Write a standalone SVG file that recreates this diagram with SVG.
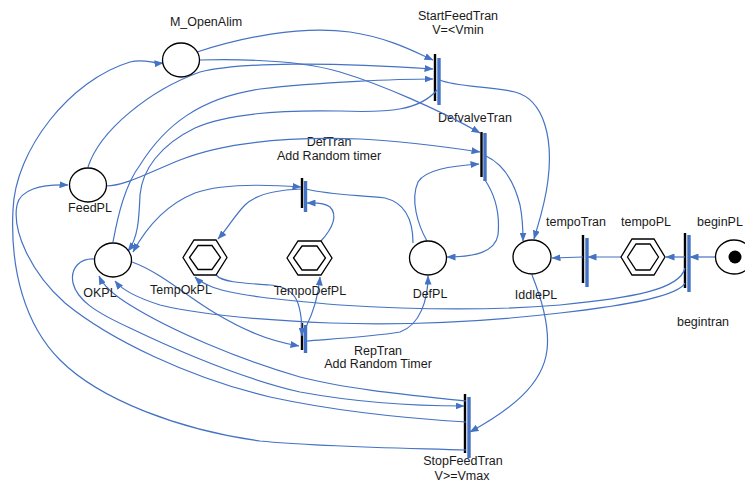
<svg xmlns="http://www.w3.org/2000/svg" width="745" height="482" viewBox="0 0 745 482">
  <style>
    .lbl { font-family: "Liberation Sans", Arial, sans-serif; font-size: 12.5px; fill: #1a1a1a; text-anchor: middle; }
    .place { fill: #ffffff; stroke: #000000; stroke-width: 1.3; }
    .bar { stroke: #000000; stroke-width: 2.4; }
    .bar2 { stroke: #4472C4; stroke-width: 3.4; }
    .arc { fill: none; stroke: #4472C4; stroke-width: 1.2; }
    .arc.to { marker-end: url(#head); }
  </style>
  <defs>
    <marker id="head" markerUnits="userSpaceOnUse" markerWidth="9" markerHeight="7" viewBox="0 0 9 7" refX="8.5" refY="3.5" orient="auto-start-reverse">
      <path d="M0,0 L9,3.5 L0,7 z" fill="#4472C4"/>
    </marker>
  </defs>
  <rect width="745" height="482" fill="#ffffff"/>

  <!-- transitions: black bar with offset blue bar -->
  <g id="StartFeedTran">
    <line class="bar" x1="435" y1="54" x2="435" y2="101"/>
    <line class="bar2" x1="439" y1="58" x2="439" y2="105"/>
    <text class="lbl" x="458" y="20">StartFeedTran</text>
    <text class="lbl" x="458" y="34">V=&lt;Vmin</text>
  </g>
  <g id="DefvalveTran">
    <line class="bar" x1="481.5" y1="132" x2="481.5" y2="177"/>
    <line class="bar2" x1="485" y1="133" x2="485" y2="181"/>
    <text class="lbl" x="475" y="122">DefvalveTran</text>
  </g>
  <g id="DefTran">
    <line class="bar" x1="302" y1="178" x2="302" y2="208"/>
    <line class="bar2" x1="305.5" y1="181" x2="305.5" y2="212"/>
    <text class="lbl" x="329" y="146">DefTran</text>
    <text class="lbl" x="329" y="160">Add Random timer</text>
  </g>
  <g id="RepTran">
    <line class="bar" x1="302" y1="323" x2="302" y2="350"/>
    <line class="bar2" x1="305.5" y1="325" x2="305.5" y2="353"/>
    <text class="lbl" x="378" y="355">RepTran</text>
    <text class="lbl" x="378" y="368">Add Random Timer</text>
  </g>
  <g id="StopFeedTran">
    <line class="bar" x1="465" y1="394" x2="465" y2="453"/>
    <line class="bar2" x1="469" y1="397" x2="469" y2="458"/>
    <text class="lbl" x="463" y="465">StopFeedTran</text>
    <text class="lbl" x="462" y="479.5">V&gt;=Vmax</text>
  </g>
  <g id="tempoTran">
    <line class="bar" x1="583" y1="235" x2="583" y2="283"/>
    <line class="bar2" x1="587" y1="238" x2="587" y2="287"/>
    <text class="lbl" x="576" y="226">tempoTran</text>
  </g>
  <g id="begintran">
    <line class="bar" x1="685" y1="233" x2="685" y2="288"/>
    <line class="bar2" x1="689" y1="235" x2="689" y2="292"/>
    <text class="lbl" x="703" y="326">begintran</text>
  </g>

  <!-- arcs -->
  <g id="connectors">
    <path class="arc to" d="M197,52 C240,38 300,25 350,32 C390,38 415,52 433,60"/>
    <path class="arc to" d="M199,60 C240,59 300,60 340,72 C380,84 440,110 480,133"/>
    <path class="arc to" d="M88,167 C100,130 150,90 200,72 C240,62 330,62 433,69"/>
    <path class="arc to" d="M113,242 C118,215 125,185 140,165 C165,125 200,98 260,89 C320,82 400,79 433,79"/>
    <path class="arc to" d="M437,90 C420,110 390,113 340,111 C290,110 230,112 195,128 C160,145 142,170 140,195 C139,220 138,238 128,251"/>
    <path class="arc to" d="M440,80 C455,87 490,86 515,92 C545,100 553,140 548,180 C545,205 538,225 534,239"/>
    <path class="arc to" d="M106,186 C125,186 150,172 180,160 C230,140 300,137 360,139 C400,141 440,146 480,152"/>
    <path class="arc to" d="M427,241 C418,225 410,200 418,182 C425,170 450,166 479,164"/>
    <path class="arc to" d="M486,156 C505,165 515,185 520,205 C523,220 523,232 523,241"/>
    <path class="arc to" d="M485,180 C495,195 500,215 498,235 C495,252 475,257 447,257"/>
    <path class="arc" d="M306,189 C330,195 360,195 385,198 C405,203 413,220 413,243"/>
    <path class="arc to" d="M301,187 C260,184 220,184 195,193 C165,205 145,230 133,252" marker-start="url(#head)"/>
    <path class="arc to" d="M301,189 C275,190 255,195 245,205 C235,215 228,228 218,239"/>
    <path class="arc to" d="M321,241 C333,228 338,215 330,207 C323,202 314,203 307,203"/>
    <path class="arc to" d="M216,275 C222,282 240,283 270,285 C295,287 302,300 302,336"/>
    <path class="arc to" d="M306,327 C312,315 318,300 320,277"/>
    <path class="arc to" d="M306,341 C330,339 370,337 400,332 C420,325 428,300 428,276"/>
    <path class="arc to" d="M132,262 C160,272 185,295 215,313 C240,328 265,340 299,346"/>
    <path class="arc to" d="M685,268 C680,290 630,298 560,305 C500,310 420,310 340,305 C280,300 230,295 210,286 C203,283 198,280 195,277"/>
    <path class="arc to" d="M685,283 C678,296 630,305 560,313 C500,320 420,326 330,323 C260,320 200,315 160,305 C135,297 122,290 115,281"/>
    <path class="arc to" d="M466,401 C420,396 350,390 300,377 C240,360 170,330 130,305 C112,294 103,285 99,276"/>
    <path class="arc to" d="M95,259 C80,258 70,268 73,283 C77,300 95,312 130,328 C180,352 240,378 300,392 C360,403 410,406 464,406"/>
    <path class="arc to" d="M466,422 C400,418 330,410 270,397 C190,378 110,340 65,303 C30,272 12,230 17,205 C20,190 40,184 68,185"/>
    <path class="arc to" d="M466,450 C400,448 320,447 260,441 C180,430 100,400 60,360 C25,325 10,270 13,210 C15,150 70,80 130,62 C145,58 152,64 163,63"/>
    <path class="arc to" d="M532,275 C540,295 550,325 547,350 C543,385 510,410 470,432"/>
    <path class="arc to" d="M716,257 L690,257"/>
    <path class="arc to" d="M685,257 L666,257"/>
    <path class="arc to" d="M621,257 L588,257"/>
    <path class="arc to" d="M583,257 L552,258"/>
  </g>

  <!-- places -->
  <g id="M_OpenAlim">
    <ellipse class="place" cx="181" cy="60" rx="18.5" ry="17"/>
    <text class="lbl" x="206" y="26">M_OpenAlim</text>
  </g>
  <g id="FeedPL">
    <ellipse class="place" cx="88" cy="185" rx="18.5" ry="17"/>
    <text class="lbl" x="90" y="212">FeedPL</text>
  </g>
  <g id="OKPL">
    <ellipse class="place" cx="113" cy="260" rx="18.5" ry="17"/>
    <text class="lbl" x="100" y="297">OKPL</text>
  </g>
  <g id="TempOkPL">
    <polygon class="place" points="183,257.5 194,240 216,240 227,257.5 216,275 194,275"/>
    <polygon class="place" points="189.5,257.5 198,245.5 212,245.5 220.5,257.5 212,269.5 198,269.5"/>
    <text class="lbl" x="181" y="294">TempOkPL</text>
  </g>
  <g id="TempoDefPL">
    <polygon class="place" points="287,258 298,241 321,241 332,258 321,275 298,275"/>
    <polygon class="place" points="293.5,258 302,246 317,246 325.5,258 317,270 302,270"/>
    <text class="lbl" x="310" y="295">TempoDefPL</text>
  </g>
  <g id="DefPL">
    <ellipse class="place" cx="428" cy="258" rx="18.5" ry="17"/>
    <text class="lbl" x="430" y="298">DefPL</text>
  </g>
  <g id="IddlePL">
    <ellipse class="place" cx="532" cy="257" rx="19" ry="17"/>
    <text class="lbl" x="536" y="299">IddlePL</text>
  </g>
  <g id="tempoPL">
    <polygon class="place" points="621,257 632,239 654,239 665,257 654,275 632,275"/>
    <polygon class="place" points="627.5,257 636,244 650,244 658.5,257 650,270 636,270"/>
    <text class="lbl" x="646" y="226">tempoPL</text>
  </g>
  <g id="beginPL">
    <ellipse class="place" cx="734" cy="257" rx="18.5" ry="17"/>
    <circle cx="735" cy="257" r="6.5" fill="#000000"/>
    <text class="lbl" x="697" y="226" style="text-anchor:start">beginPL</text>
  </g>
</svg>
